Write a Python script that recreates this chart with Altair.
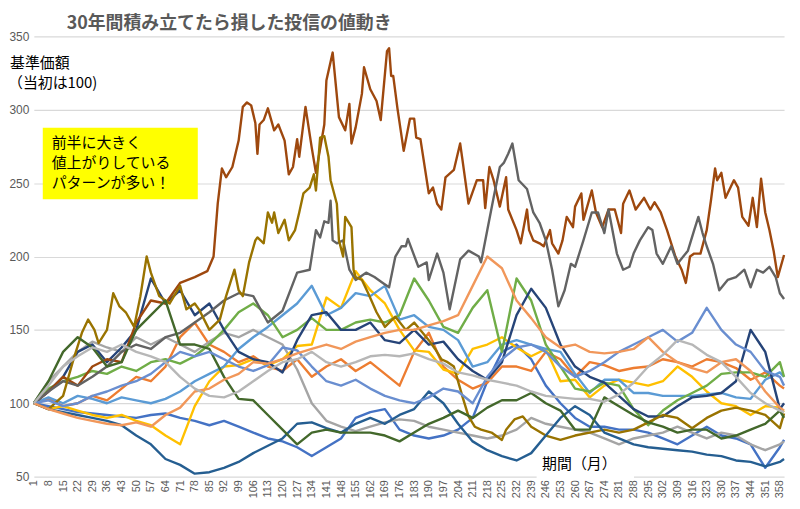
import altair as alt
import pandas as pd

# months shown (every 7th month label) and sample points of most series
tick_months = list(range(1, 359, 7))
months = tick_months + [360]

colors = ["#4472C4", "#ED7D31", "#A5A5A5", "#FFC000", "#5B9BD5", "#70AD47", "#264478",
          "#9E480E", "#636363", "#997300", "#255E91", "#43682B", "#698ED0", "#F1975A", "#B7B7B7"]

s01 = [100,98,96,94,93,92,91,90,92,93, 90,88,85,88,84,80,76,74,70,64,
       70,76,90,94,96,82,78,76,78,82, 90,115,135,140,130,112,100,90,84,84,
       82,82,80,76,72,78,84,78,76,72, 56,70,75]
s02 = [100,103,98,100,105,102,110,118,115,125, 145,155,140,135,128,132,125,122,130,118,
       125,130,122,128,120,112,135,148,125,116, 110,114,125,125,122,135,130,118,128,126,
       122,124,125,130,128,125,130,128,124,116, 121,112,110]
s03 = [100,115,125,135,142,138,135,145,140,145, 140,135,142,148,145,150,145,140,123,100,
       88,84,81,84,87,89,88,84,82,80, 78,76,78,82,90,86,84,82,80,76,
       72,76,78,80,84,80,76,80,78,72, 68,72,74]
s04 = [100,96,98,95,92,90,92,88,85,78, 72,98,115,125,126,130,126,130,139,140,
       172,165,190,177,168,150,136,135,123,120, 137,140,145,138,132,137,115,116,104,112,
       116,114,112,115,125,118,108,100,98,92, 98,97,94]
s05 = [100,104,100,105,103,100,104,102,100,103, 108,115,120,125,137,145,152,160,168,180,
       160,165,175,173,180,157,160,152,150,143, 125,128,140,143,140,137,135,120,107,116,
       116,107,107,105,105,105,106,107,104,103, 116,121,118]
s06 = [100,110,115,118,122,120,125,122,128,130, 127,132,140,150,162,168,160,145,150,158,
       150,150,155,157,155,160,185,170,152,148, 165,177,135,185,170,140,125,110,108,114,
       112,96,85,95,102,107,112,120,121,121, 118,128,118]
s07 = [100,108,118,135,140,128,138,150,185,168, 177,160,168,150,135,130,128,121,143,160,
       162,150,150,155,143,141,150,140,142,130, 122,116,128,160,178,165,140,125,118,114,
       105,96,91,91,98,104,105,107,115,150, 135,96,100]

# the three series that stand out, read at a finer step
s08_months = [1,8,15,22,29,36,43,50,57,64, 71,78,84,87,89,91,93,96,99,101,
              103,105,107,108,109,111,113,116,118,121, 123,125,127,128,131,134,136,140,141,144,
              147,150,152,153,155,158,159,162,165,167, 170,171,172,173,175,178,181,183,184,186,
              190,192,194,196,198,202,205,206,209,213, 216,217,219,221,224,227,228,232,234,237,
              238,240,243,245,248,249,252,254,256,259, 260,263,264,268,270,273,276,279,282,283,
              286,289,291,293,296,298,301,304,306,308, 311,313,315,317,320,323,325,327,328,330,
              332,336,338,340,343,345,347,349,351,353, 355,357,360]
s08 = [100,108,118,112,125,130,128,155,170,168, 182,186,190,200,236,260,254,261,279,302,
       305,303,291,270,290,293,301,286,290,279, 256,261,280,268,302,274,257,290,320,339,
       295,286,304,277,288,311,329,314,306,293, 340,342,323,323,301,272,294,294,281,280,
       243,247,236,232,254,259,277,267,236,252, 252,233,261,252,234,254,232,218,209,232,
       218,211,209,207,218,209,202,211,227,220, 234,243,225,245,230,220,232,232,216,236,
       245,232,236,240,232,237,230,218,209,200, 191,182,200,202,202,218,238,260,252,257,
       240,252,247,227,221,240,220,253,230,218, 204,186,201]

s09_months = [1,8,15,22,29,36,43,50,57,64, 71,78,85,92,99,106,113,120,127,133,
              136,138,140,142,143,144,146,149,152,155, 160,164,168,171,174,177,179,180,185,189,
              190,194,197,200,205,209,214,215,218,221, 224,226,228,230,233,237,240,243,246,249,
              252,255,258,260,264,268,271,274,276,280, 283,286,288,291,295,297,299,302,306,309,
              314,317,319,321,323,326,329,333,337,341, 344,347,350,353,356,358,360]
s09 = [100,108,115,112,118,125,135,140,137,145, 148,155,162,170,175,173,155,163,189,191,
       218,213,224,223,238,211,209,211,191,184, 189,186,182,179,200,207,207,212,193,196,
       184,202,189,164,198,204,200,196,218,240, 261,264,270,277,252,246,230,223,211,191,
       166,177,195,193,211,230,230,216,232,202, 191,193,202,211,220,218,202,195,207,195,
       204,218,227,216,207,195,177,184,186,191, 179,191,189,193,186,175,171]

s10_months = [1,8,15,20,24,27,30,32,36,39, 42,45,49,52,55,57,61,66,71,74,
              78,80,85,90,93,97,99,101,104,107, 108,111,113,115,116,118,121,123,126,128,
              130,133,135,136,138,140,142,143,146,147, 149,150,153,154,155,158,161,165,169,174,
              179,183,190,193,196,199,202,206,209,212, 215,220,225,227,231,235,239,246,253,260,
              267,274,281,288,295,302,309,316,323,330, 337,344,351,358,360]
s10 = [100,96,105,130,148,157,150,141,150,175, 166,162,152,173,200,189,173,168,180,164,
       168,164,150,157,173,191,177,173,196,211, 213,209,230,223,230,216,225,211,218,230,
       243,247,256,245,281,282,268,252,236,211, 200,227,220,191,186,184,175,162,152,159,
       150,155,143,137,130,128,125,105,91,84, 82,80,75,82,89,91,84,78,75,78,
       80,82,80,82,87,92,90,83,90,95, 97,95,92,83,93]

s11 = [100,96,94,92,90,88,85,78,72,62, 58,52,53,56,60,66,71,76,86,87,
       83,80,86,90,86,92,96,108,100,86, 74,68,64,61,66,78,90,98,92,80,
       76,72,70,69,68,67,65,64,61,60, 57,60,62]
s12 = [100,115,135,145,138,125,128,150,160,170, 140,140,137,118,103,102,92,82,72,80,
       82,80,80,80,78,74,80,86,90,95, 90,97,102,102,107,100,95,82,82,104,
       98,92,87,84,80,82,82,76,78,82, 86,95,90]
s13 = [100,102,98,100,105,108,112,115,120,128, 135,132,135,130,125,122,126,138,136,125,
       115,112,116,110,105,102,100,104,110,108, 100,118,130,138,140,135,125,118,122,128,
       135,140,145,150,142,148,165,150,140,135, 122,118,112]
s14 = [100,96,93,90,88,86,85,87,84,92, 97,108,110,116,120,128,127,130,134,137,
       140,137,142,145,148,150,150,153,156,160, 180,200,192,170,158,145,138,140,135,134,
       135,137,145,135,128,124,121,128,130,122, 108,97,95]
s15 = [100,112,125,132,138,135,140,135,132,128, 118,110,105,104,108,115,122,128,130,135,
       128,125,128,132,133,132,134,130,127,121, 119,116,114,112,108,105,104,103,103,101,
       106,114,125,133,143,140,133,128,118,107, 100,95,94]

series_values = [s01, s02, s03, s04, s05, s06, s07, s08, s09, s10, s11, s12, s13, s14, s15]
series_months = [months] * 7 + [s08_months, s09_months, s10_months] + [months] * 5
series_names = [f"s{i+1:02d}" for i in range(len(series_values))]

y_ticks = [50, 100, 150, 200, 250, 300, 350]
title_text = "30年間積み立てたら損した投信の値動き"
y_title_lines = ["基準価額", "（当初は100)"]
box_lines = ["前半に大きく", "値上がりしている", "パターンが多い！"]
x_title = "期間（月）"

rows = []
for name, ms, vals in zip(series_names, series_months, series_values):
    for m, v in zip(ms, vals):
        rows.append({"series": name, "month": m, "value": v})
df = pd.DataFrame(rows)

JP = "Noto Sans CJK JP"

lines = alt.Chart(df).mark_line(strokeWidth=2.4, strokeJoin="round").encode(
    x=alt.X("month:Q", scale=alt.Scale(domain=[1, 360], nice=False, zero=False),
            axis=alt.Axis(values=tick_months, labelAngle=270, title=None, grid=False,
                          domain=False, ticks=False, labelFontSize=11, labelColor="#595959",
                          labelFont="Liberation Sans", labelPadding=3, labelOverlap=False)),
    y=alt.Y("value:Q", scale=alt.Scale(domain=[50, 350], nice=False, zero=False),
            axis=alt.Axis(values=y_ticks, title=None, domain=False, ticks=False,
                          gridColor="#D9D9D9", gridWidth=1.2, labelColor="#595959",
                          labelFontSize=12, labelFont="Liberation Sans", labelPadding=5)),
    color=alt.Color("series:N", scale=alt.Scale(domain=series_names, range=colors), legend=None),
    detail="series:N",
    order="month:Q",
)

one = pd.DataFrame({"k": [0]})

title = alt.Chart(one).mark_text(text=title_text, font=JP, fontSize=18, fontWeight="bold",
                                 color="#595959", align="left", baseline="middle").encode(
    x=alt.value(33), y=alt.value(-12))

ytitle = [
    alt.Chart(one).mark_text(text=t, font=JP, fontSize=15, color="#000000",
                             align="left", baseline="middle").encode(
        x=alt.value(xx), y=alt.value(yy))
    for t, xx, yy in zip(y_title_lines, [-24, -26], [27, 47])
]

box = alt.Chart(one).mark_rect(color="#FFFF00").encode(
    x=alt.value(9), x2=alt.value(165), y=alt.value(92), y2=alt.value(164))

box_text = [
    alt.Chart(one).mark_text(text=t, font=JP, fontSize=15, color="#000000",
                             align="left", baseline="middle").encode(
        x=alt.value(18), y=alt.value(107 + i * 20.5))
    for i, t in enumerate(box_lines)
]

xbg = alt.Chart(one).mark_rect(color="#FFFFFF").encode(
    x=alt.value(506), x2=alt.value(604), y=alt.value(418), y2=alt.value(447))
xlab = alt.Chart(one).mark_text(text=x_title, font=JP, fontSize=15, color="#000000",
                                align="center", baseline="middle").encode(
    x=alt.value(549), y=alt.value(430))

chart = alt.layer(lines, box, *box_text, xbg, xlab, title, *ytitle).properties(
    width=755, height=443,
    autosize=alt.AutoSizeParams(type="none"),
    padding={"left": 26, "top": 27, "right": 8, "bottom": 30},
    background="#FFFFFF",
).configure_view(stroke=None)

chart.save("out.html", embed_options={"renderer": "svg", "actions": False})
